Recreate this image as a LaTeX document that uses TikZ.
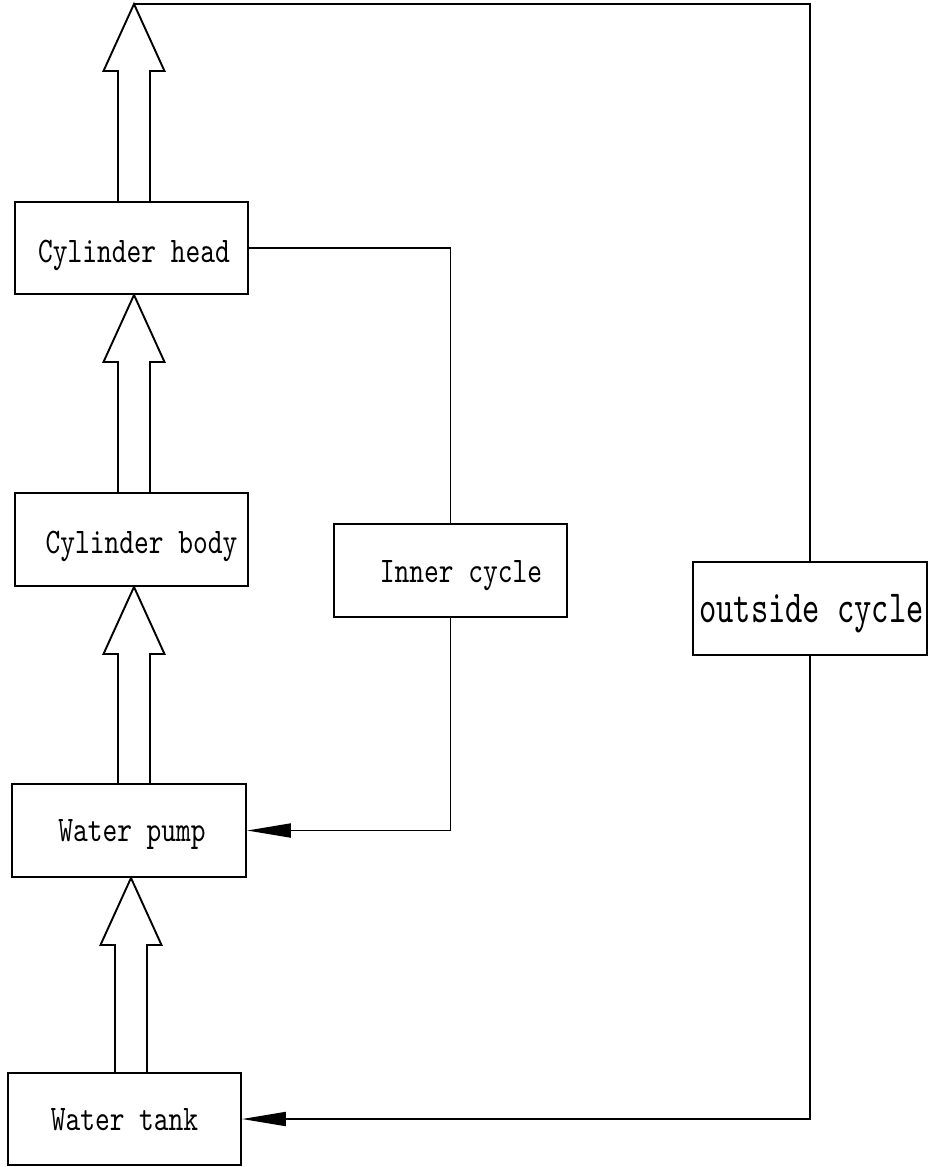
\documentclass[tikz,border=0pt]{standalone}
\usepackage{fontspec}
\usetikzlibrary{arrows.meta,calc}
\newfontfamily\lblfont{lmmono10-regular.otf}[FakeStretch=0.78]
\newfontfamily\lblwfont{lmmono10-regular.otf}[FakeStretch=0.715]
\newcommand{\hollowup}[3]{%
  \draw[hollow] let \p1=(#2), \p2=(#3) in
   ({#1pt-16pt},\y1) -- ({#1pt-16pt},\y2-67pt) -- ({#1pt-30.5pt},\y2-67pt) --
   ({#1pt},\y2) -- ({#1pt+30.5pt},\y2-67pt) -- ({#1pt+16pt},\y2-67pt) -- ({#1pt+16pt},\y1);}
\begin{document}
\begin{tikzpicture}[x=1pt,y=-1pt,
  box/.style={draw, line width=1.9pt, minimum width=233pt, minimum height=92pt, inner sep=0pt},
  lbl/.style={font=\lblfont\fontsize{36}{40}\selectfont, anchor=base, inner sep=0pt},
  lblw/.style={font=\lblwfont\fontsize{46}{50}\selectfont, anchor=base, inner sep=0pt},
  hollow/.style={draw, line width=1.9pt, line join=miter},
  flow/.style={draw, line width=1.9pt, -{Triangle[length=44pt,width=14pt]}},
  plain/.style={draw, line width=1.9pt}]
\useasboundingbox (0,0) rectangle (930,1167);
% boxes
\node[box] (head) at (131.5,248) {};
\node[box, minimum height=93pt] (body) at (131.5,539.5) {};
\node[box, minimum height=93pt] (inner) at (450.5,570.5) {};
\node[box, minimum width=234pt, minimum height=93pt] (outside) at (810,608.5) {};
\node[box, minimum width=234pt, minimum height=93pt] (pump) at (129,830.5) {};
\node[box] (tank) at (124.5,1119) {};
% labels
\node[lbl] (headt) at ($(head.center)+(2.5,14)$) {Cylinder head};
\node[lbl] (bodyt) at ($(body.center)+(10,13.5)$) {Cylinder body};
\node[lbl] (innert) at ($(inner.center)+(10.5,11.5)$) {Inner cycle};
\node[lblw] (outsidet) at ($(outside.center)+(1.5,13.5)$) {outside cycle};
\node[lbl] (pumpt) at ($(pump.center)+(3,10.5)$) {Water pump};
\node[lbl] (tankt) at ($(tank.center)+(0,11)$) {Water tank};
% hollow arrows
\coordinate (top) at (134,4);
\hollowup{134}{head.north}{top}
\hollowup{134}{body.north}{head.south}
\hollowup{134}{pump.north}{body.south}
\hollowup{131}{tank.north}{pump.south}
% connectors
\draw[plain] (top) -| (outside.north);
\draw[flow] (outside.south) |- (tank.east);
\draw[plain] (head.east) -| (inner.north);
\draw[flow] (inner.south) |- (pump.east);
\end{tikzpicture}
\end{document}
